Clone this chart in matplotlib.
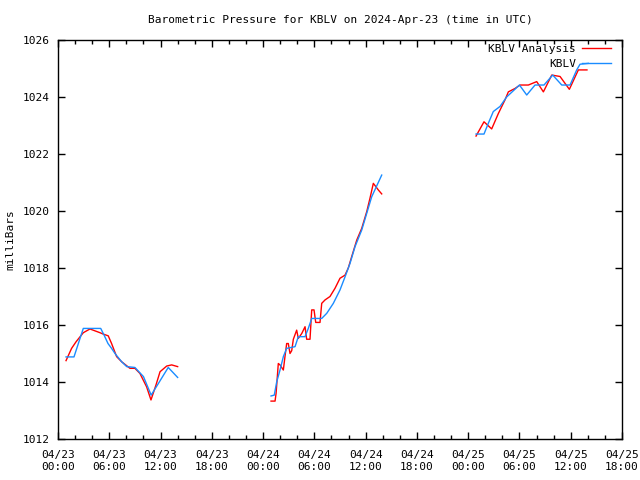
import numpy as np
import pandas as pd
import matplotlib
matplotlib.use('Agg')
import matplotlib.pyplot as plt
import matplotlib.dates as mdates

################################################################################
# DATA  (hours after 2024-04-23 00:00 UTC, pressure in mb; NaN = gap)
################################################################################
start = pd.Timestamp('2024-04-23 00:00')

obs_hours = [0.94, 1.87, 2.96, 5.0, 5.4, 5.85, 6.27, 6.67, 7.45, 8.04, 9.0, 10.0,
             10.9, 11.75, 12.9, 14.0, np.nan,
             24.93, 25.31, 25.59, 25.98, 26.37, 26.76, 27.74, 28.12, 28.91, 29.29,
             29.69, 30.86, 31.45, 32.22, 33.0, 33.59, 34.17, 34.76, 35.54, 36.13,
             36.71, 37.88, np.nan,
             48.92, 49.85, 50.36, 50.94, 51.73, 52.5, 54.0, 54.85, 55.82, 56.87,
             57.89, 58.95, 59.92, 60.7, 61.09, 62.06]
obs_mb = [1014.88, 1014.88, 1015.88, 1015.88, 1015.64, 1015.35, 1015.18, 1015.0,
          1014.71, 1014.54, 1014.51, 1014.19, 1013.54, 1013.95, 1014.51, 1014.16, np.nan,
          1013.51, 1013.54, 1014.0, 1014.42, 1014.89, 1015.18, 1015.24, 1015.59,
          1015.59, 1015.88, 1016.23, 1016.23, 1016.41, 1016.76, 1017.23, 1017.69,
          1018.16, 1018.75, 1019.33, 1019.92, 1020.5, 1021.26, np.nan,
          1022.70, 1022.70, 1023.08, 1023.49, 1023.67, 1024.0, 1024.42, 1024.07,
          1024.42, 1024.42, 1024.77, 1024.42, 1024.42, 1024.95, 1025.15, 1025.18]

ana_hours = [0.94, 1.59, 2.11, 2.96, 3.74, 4.91, 5.30, 5.88, 6.27, 6.86, 7.45, 8.42,
             9.0, 9.59, 10.37, 10.88, 11.47, 11.94, 12.72, 13.3, 14.0, np.nan,
             24.93, 25.4, 25.52, 25.78, 25.98, 26.37, 26.56, 26.76, 26.95, 27.15,
             27.35, 27.54, 27.93, 28.12, 28.52, 28.91, 29.1, 29.49, 29.69, 29.96,
             30.16, 30.66, 30.86, 31.25, 31.83, 32.42, 33.0, 33.59, 33.97, 34.37,
             34.96, 35.54, 36.13, 36.51, 36.9, 37.18, 37.48, 37.88, np.nan,
             48.92, 49.85, 50.75, 51.53, 52.31, 52.7, 53.48, 54.07, 55.04, 56.02,
             56.8, 57.78, 58.75, 59.33, 59.84, 60.89, 61.9]
ana_mb = [1014.75, 1015.18, 1015.41, 1015.73, 1015.86, 1015.73, 1015.68, 1015.62,
          1015.35, 1014.89, 1014.71, 1014.48, 1014.48, 1014.3, 1013.83, 1013.37,
          1013.9, 1014.36, 1014.56, 1014.6, 1014.54, np.nan,
          1013.33, 1013.33, 1013.6, 1014.65, 1014.6, 1014.42, 1014.89, 1015.35,
          1015.35, 1015.0, 1015.1, 1015.5, 1015.82, 1015.53, 1015.7, 1015.94,
          1015.5, 1015.5, 1016.53, 1016.53, 1016.09, 1016.09, 1016.76, 1016.88,
          1017.0, 1017.29, 1017.64, 1017.75, 1018.0, 1018.4, 1018.98, 1019.39,
          1019.98, 1020.45, 1020.97, 1020.86, 1020.74, 1020.6, np.nan,
          1022.63, 1023.13, 1022.88, 1023.42, 1023.9, 1024.18, 1024.3, 1024.42,
          1024.42, 1024.54, 1024.18, 1024.77, 1024.72, 1024.48, 1024.27, 1024.95,
          1024.95]

yticks = [1012, 1014, 1016, 1018, 1020, 1022, 1024, 1026]

################################################################################
# PLOT
################################################################################
plt.rcParams['font.family'] = ['DejaVu Sans Mono']
plt.rcParams['font.size'] = 8

def to_time(hours):
    return (start + pd.to_timedelta(np.array(hours, dtype=float), unit='h')).values

fig = plt.figure(figsize=(6.4, 4.8), dpi=100)
ax = fig.add_axes([58/640, 41/480, 564/640, 399/480])

ax.plot(to_time(ana_hours), ana_mb, color='#ff0000', lw=1, label='KBLV Analysis')
ax.plot(to_time(obs_hours), obs_mb, color='#1a8cff', lw=1, label='KBLV')

ax.set_xlim(start.to_datetime64(), (start + pd.Timedelta(hours=66)).to_datetime64())
ax.set_ylim(1012, 1026)
ax.set_yticks(yticks)
ax.set_yticklabels([str(t) for t in yticks])

ax.xaxis.set_major_locator(mdates.HourLocator(byhour=[0, 6, 12, 18]))
ax.xaxis.set_minor_locator(mdates.HourLocator(byhour=range(0, 24, 2)))
ax.xaxis.set_major_formatter(mdates.DateFormatter('%m/%d\n%H:%M'))

ax.tick_params(axis='both', which='major', direction='in', length=5, width=1,
               top=True, right=True, labelsize=8, pad=6)
ax.tick_params(axis='x', which='major', pad=8)
ax.tick_params(axis='x', which='minor', direction='in', length=3, width=1,
               top=True, bottom=True)
for s in ax.spines.values():
    s.set_linewidth(1)

ax.set_title('Barometric Pressure for KBLV on 2024-Apr-23 (time in UTC)', fontsize=8, pad=12.5)
ax.set_ylabel('milliBars', fontsize=8, labelpad=5)

leg = ax.legend(loc='upper right', bbox_to_anchor=(611/640, 1 - 44/480),
                bbox_transform=fig.transFigure, frameon=False, markerfirst=False,
                fontsize=8, handlelength=2.6, handletextpad=0.55, labelspacing=0.45,
                borderaxespad=0, borderpad=0)
for t in leg.get_texts():
    t.set_ha('right')

plt.savefig('out.png', dpi=100)
